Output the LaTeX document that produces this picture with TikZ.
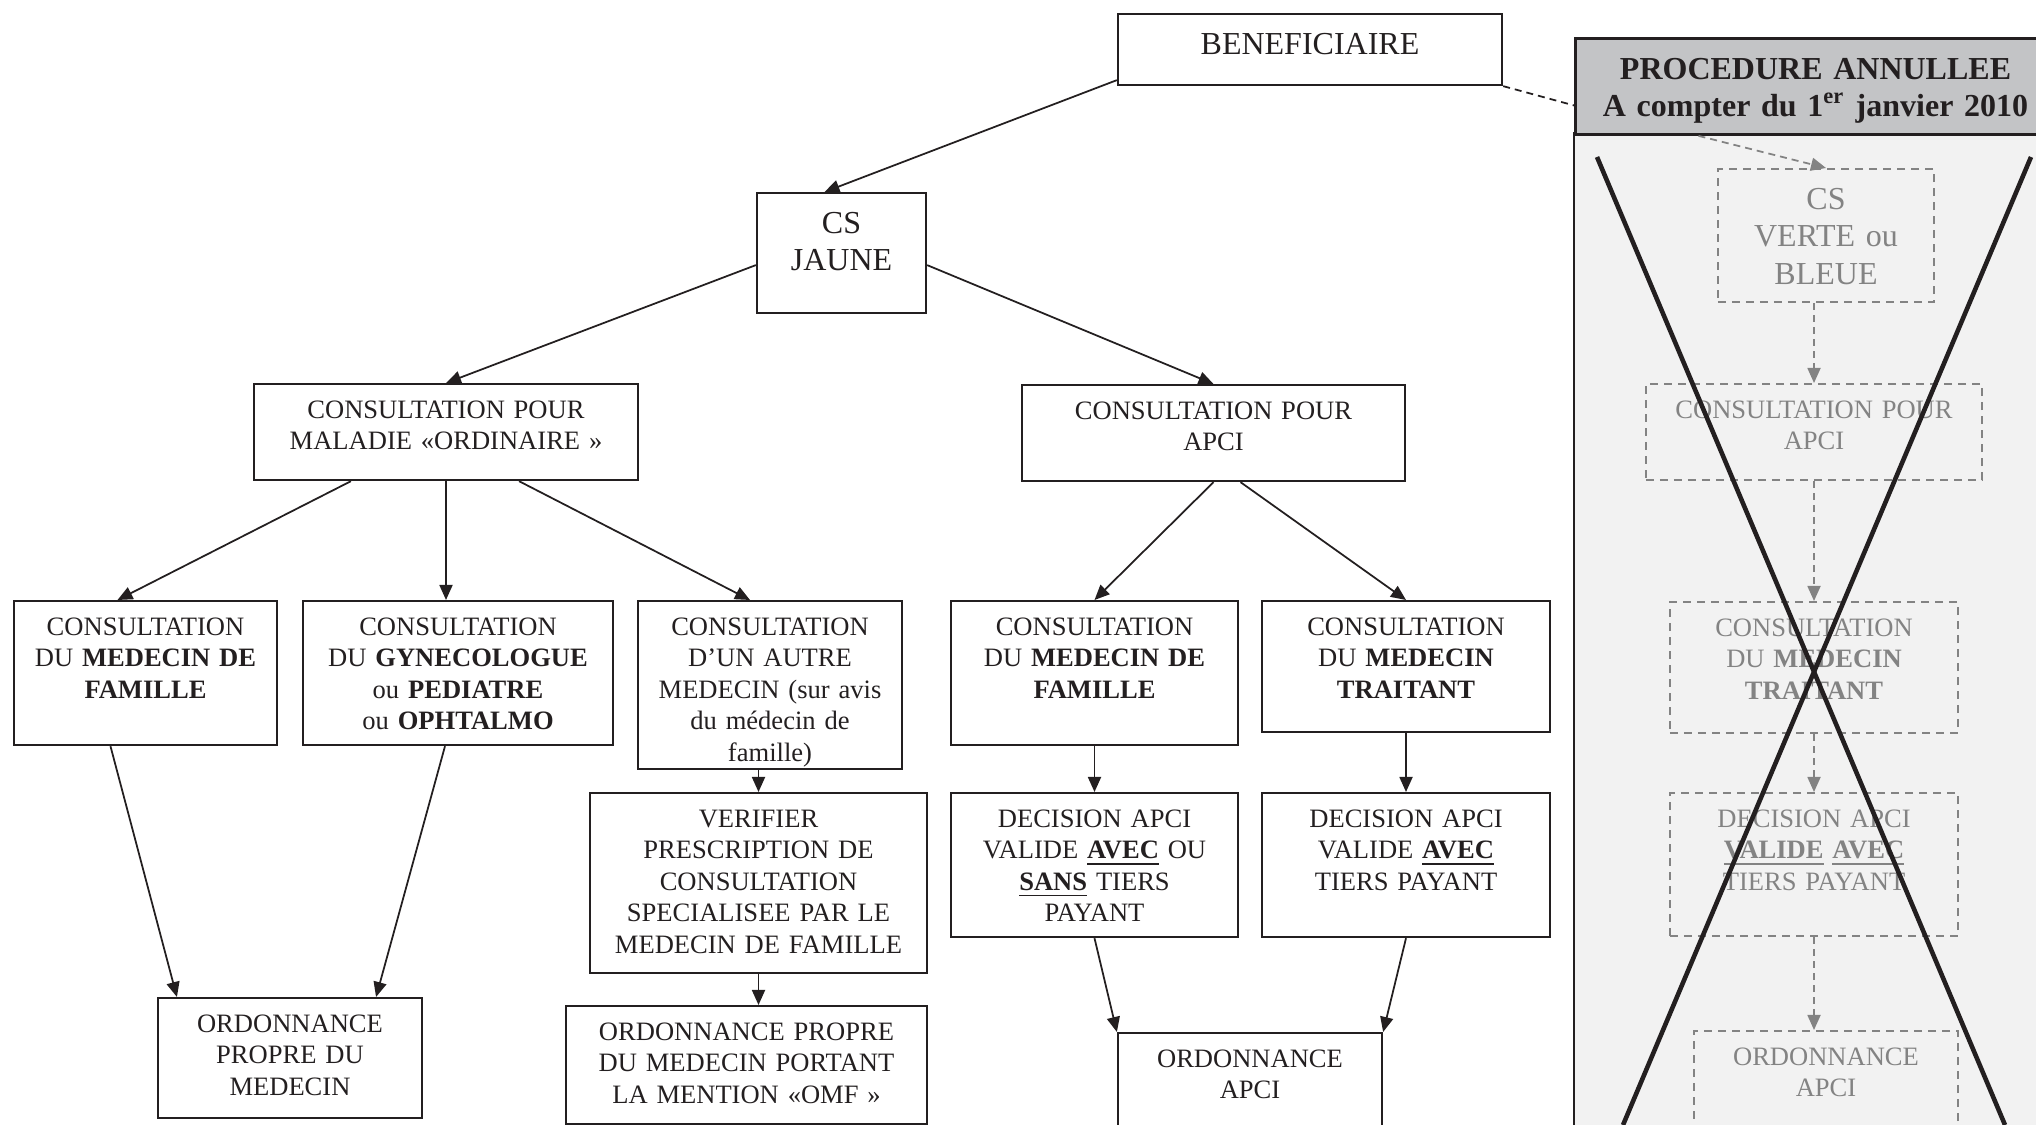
\documentclass[tikz,border=0pt]{standalone}
\usepackage{fontspec}
\setmainfont{Liberation Serif}
\usetikzlibrary{arrows.meta}
\definecolor{ink}{HTML}{231F20}
\definecolor{hdrgray}{HTML}{C3C4C6}
\definecolor{panelgray}{HTML}{F2F2F2}
\definecolor{ghost}{HTML}{838383}
\begin{document}
\begin{tikzpicture}[->, >={Triangle[length=0.15cm, width=0.13cm]}, x=0.01cm, y=-0.01cm, color=ink, line width=0.5pt,
    box/.style={draw, line width=0.6pt, anchor=north, align=center, inner xsep=0pt, inner ysep=0.1cm, font=\fontsize{7.55pt}{8.96pt}\selectfont, text height=0.24cm},
    bigbox/.style={box, font=\fontsize{9.1pt}{10.67pt}\selectfont, text height=0.3cm},
    gone/.style={box, draw=ghost, text=ghost, dash pattern=on 0.08cm off 0.06cm},
    biggone/.style={gone, font=\fontsize{9.1pt}{10.67pt}\selectfont, text height=0.3cm},
    ghostline/.style={ghost, dash pattern=on 0.07cm off 0.05cm},
    hdrbox/.style={draw, line width=0.8pt, fill=hdrgray, anchor=north west, text width=4.8cm, inner sep=0pt, text height=0.41cm, text depth=0.55cm, align=center, font=\bfseries\fontsize{9.1pt}{10.6pt}\selectfont},
    cross/.style={-, line width=1.3pt}]
    \clip[use as bounding box] (0,0) rectangle (2036,1125);

    \node [bigbox, text width=3.84cm, text depth=0.21cm] (benef) at (1310,13) {BENEFICIAIRE};
    \node [bigbox, text width=1.69cm, text depth=0.70cm] (csj) at (841.5,192) {CS\\JAUNE};
    \node [box, text width=3.84cm, text depth=0.52cm] (mal) at (446,383) {CONSULTATION POUR\\MALADIE «ORDINAIRE »};
    \node [box, text width=3.83cm, text depth=0.52cm] (apci) at (1213.5,384) {CONSULTATION POUR\\APCI};

    \node [box, text width=2.63cm, text depth=1.00cm] (famA) at (145.5,600) {CONSULTATION\\DU \textbf{MEDECIN DE}\\\textbf{FAMILLE}};
    \node [box, text width=3.10cm, text depth=1.00cm] (gyn) at (458,600) {CONSULTATION\\DU \textbf{GYNECOLOGUE}\\ou \textbf{PEDIATRE}\\ou \textbf{OPHTALMO}};
    \node [box, text width=2.64cm, text depth=1.24cm] (autre) at (770,600) {CONSULTATION\\D’UN AUTRE\\MEDECIN (sur avis\\du médecin de\\famille)};
    \node [box, text width=2.87cm, text depth=1.00cm] (famB) at (1094.5,600) {CONSULTATION\\DU \textbf{MEDECIN DE}\\\textbf{FAMILLE}};
    \node [box, text width=2.88cm, text depth=0.87cm] (trt) at (1406,600) {CONSULTATION\\DU \textbf{MEDECIN}\\\textbf{TRAITANT}};

    \node [box, text width=3.37cm, text depth=1.36cm] (verif) at (758.5,792) {VERIFIER\\PRESCRIPTION DE\\CONSULTATION\\SPECIALISEE PAR LE\\MEDECIN DE FAMILLE};
    \node [box, text width=2.87cm, text depth=1.00cm] (decA) at (1094.5,792) {DECISION APCI\\VALIDE \underline{\textbf{AVEC}} OU\\\underline{\textbf{SANS}} TIERS\\PAYANT};
    \node [box, text width=2.88cm, text depth=1.00cm] (decB) at (1406,792) {DECISION APCI\\VALIDE \underline{\textbf{AVEC}}\\TIERS PAYANT};

    \node [box, text width=2.64cm, text depth=0.76cm] (ordP) at (290,997) {ORDONNANCE\\PROPRE DU\\MEDECIN};
    \node [box, text width=3.61cm, text depth=0.74cm] (omf) at (746.5,1005) {ORDONNANCE PROPRE\\DU MEDECIN PORTANT\\LA MENTION «OMF »};
    \node [box, text width=2.64cm, text depth=0.76cm] (ordA) at (1250,1032) {ORDONNANCE\\APCI};

    \path ([yshift=0.06cm]benef.south west) edge ([xshift=-0.17cm]csj.north);
    \path ([yshift=-0.12cm]csj.west) edge (mal.north);
    \path ([yshift=-0.12cm]csj.east) edge (apci.north);
    \path ([xshift=-0.95cm]mal.south) edge ([xshift=-0.28cm]famA.north);
    \path (mal.south) edge (mal.south |- gyn.north);
    \path ([xshift=0.73cm]mal.south) edge ([xshift=-0.2cm]autre.north);
    \path (apci.south) edge (famB.north);
    \path ([xshift=0.27cm]apci.south) edge (trt.north);
    \path ([xshift=-0.35cm]famA.south) edge ([xshift=-1.13cm]ordP.north);
    \path ([xshift=-0.13cm]gyn.south) edge ([xshift=0.86cm]ordP.north);
    \path (autre.south -| verif.north) edge (verif.north);
    \path (verif.south) edge (verif.south |- omf.north);
    \path (famB.south) edge (decA.north);
    \path (trt.south) edge (decB.north);
    \path (decA.south) edge (ordA.north west);
    \path (decB.south) edge (ordA.north east);

    \draw [-, fill=panelgray, line width=0.7pt] (1574,133) rectangle (2060,1140);
    \node [hdrbox] (hdr) at (1574,37) {PROCEDURE ANNULLEE\\A compter du 1\textsuperscript{er} janvier 2010};
    \path (benef.south east) edge [-, dash pattern=on 0.07cm off 0.05cm] ([yshift=-0.19cm]hdr.west);

    \node [biggone, text width=2.16cm, text depth=0.83cm] (csv) at (1826,168) {CS\\VERTE ou\\BLEUE};
    \node [gone, text width=3.36cm, text depth=0.52cm] (papci) at (1814,383) {CONSULTATION POUR\\APCI};
    \node [gone, text width=2.88cm, text depth=0.87cm] (ptrt) at (1814,601) {CONSULTATION\\DU \textbf{MEDECIN}\\\textbf{TRAITANT}};
    \node [gone, text width=2.88cm, text depth=0.99cm] (pdec) at (1814,792) {DECISION APCI\\\underline{\textbf{VALIDE}} \underline{\textbf{AVEC}}\\TIERS PAYANT};
    \node [gone, text width=2.64cm, text depth=0.76cm] (pord) at (1826,1030) {ORDONNANCE\\APCI};

    \path ([xshift=-1.17cm]hdr.south) edge [ghostline] (csv.north);
    \path (csv.south -| papci.north) edge [ghostline] (papci.north);
    \path (papci.south) edge [ghostline] (ptrt.north);
    \path (ptrt.south) edge [ghostline] (pdec.north);
    \path (pdec.south) edge [ghostline] (pdec.south |- pord.north);

    \draw [cross] (1597,157) -- (2005,1125);
    \draw [cross] (2031,157) -- (1623,1125);
\end{tikzpicture}
\end{document}
